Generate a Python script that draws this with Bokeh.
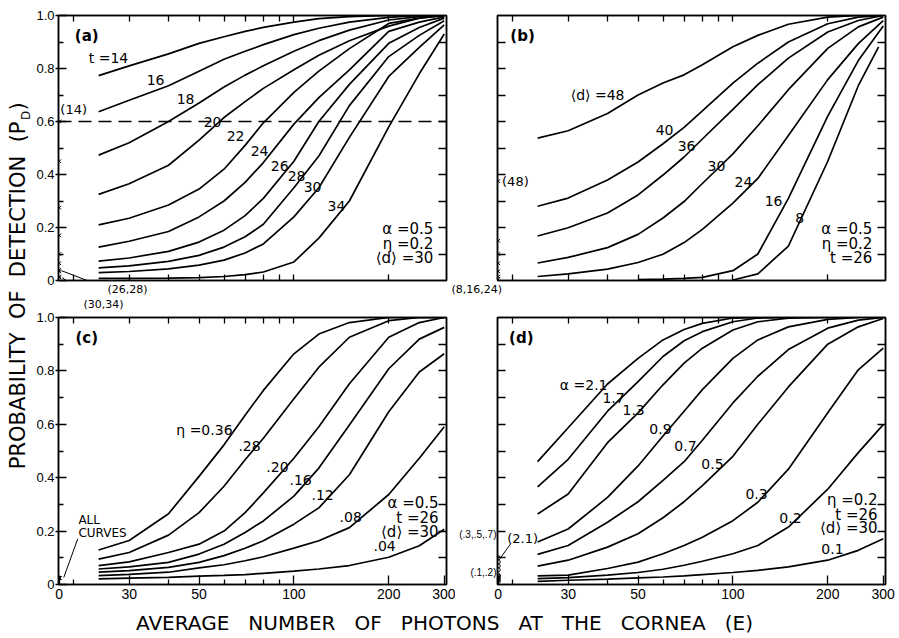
import math
import json
from bokeh.plotting import figure
from bokeh.models import (Range1d, FixedTicker, LinearAxis, LogAxis, Title,
                          CustomJSTickFormatter, Label, Arrow, Span)
from bokeh.layouts import row, column
from bokeh.embed import file_html
from bokeh.resources import INLINE

FONT = "DejaVu Sans"
TFONT = "Liberation Sans"
GAP = " \u00a0\u00a0"     # wide word gap that SVG does not collapse

# ---------------- axis definition ----------------
E0 = 18.0                      # where E = 0 sits on the broken log axis
X_LO, X_HI = 17.9, 305.0
X_MAJOR = [E0, 30, 50, 100, 200, 300]
X_MINOR = [20, 40, 60, 70, 80, 90]
X_ALL = [20, 30, 40, 50, 60, 70, 80, 90, 100, 200]
Y_MAJOR = [0, 0.2, 0.4, 0.6, 0.8, 1.0]
Y_MINOR = [0.1, 0.3, 0.5, 0.7, 0.9]
Y_ALL = [0.1, 0.2, 0.3, 0.4, 0.5, 0.6, 0.7, 0.8, 0.9]

X_TITLE_WORDS = ["AVERAGE", "NUMBER", "OF", "PHOTONS", "AT", "THE", "CORNEA", "(E)"]
Y_TITLE_WORDS = ["PROBABILITY", "OF", "DETECTION", "(P"]

E = [24, 30, 40, 50, 60, 70, 80, 100, 120, 150, 200, 250, 300]

# ---------------- panel (a): threshold t ----------------
a_t = [14, 16, 18, 20, 22, 24, 26, 28, 30, 34]
a_P = [
    [0.773, 0.81, 0.855, 0.895, 0.92, 0.94, 0.955, 0.975, 0.988, 0.996, 1.0, 1.0, 1.0],
    [0.637, 0.68, 0.735, 0.79, 0.835, 0.865, 0.89, 0.928, 0.952, 0.975, 0.993, 1.0, 1.0],
    [0.473, 0.52, 0.60, 0.67, 0.73, 0.775, 0.81, 0.865, 0.905, 0.945, 0.983, 0.996, 1.0],
    [0.325, 0.365, 0.435, 0.53, 0.615, 0.675, 0.725, 0.795, 0.85, 0.905, 0.96, 0.99, 1.0],
    [0.21, 0.235, 0.285, 0.345, 0.42, 0.51, 0.595, 0.71, 0.79, 0.875, 0.97, 0.99, 1.0],
    [0.126, 0.148, 0.185, 0.24, 0.30, 0.37, 0.445, 0.59, 0.69, 0.795, 0.94, 0.975, 0.995],
    [0.073, 0.085, 0.11, 0.145, 0.19, 0.245, 0.31, 0.45, 0.60, 0.74, 0.895, 0.955, 0.99],
    [0.048, 0.055, 0.072, 0.095, 0.126, 0.165, 0.212, 0.35, 0.47, 0.66, 0.845, 0.925, 0.98],
    [0.03, 0.034, 0.044, 0.058, 0.077, 0.104, 0.138, 0.24, 0.35, 0.54, 0.77, 0.88, 0.965],
    [0.008, 0.008, 0.009, 0.011, 0.015, 0.022, 0.032, 0.07, 0.16, 0.30, 0.58, 0.78, 0.93],
]
a_dark = [0.60, 0.45, 0.275, 0.17, 0.10, 0.065, 0.04, 0.035, 0.015, 0.012]
a_lab = ["t =14", "16", "18", "20", "22", "24", "26", "28", "30", "34"]
a_lab_E = [25.8, 36.4, 45.3, 55.2, 65.3, 77.8, 90.1, 102, 114.6, 136.5]
a_lab_P = [0.840, 0.758, 0.684, 0.599, 0.546, 0.487, 0.431, 0.394, 0.353, 0.283]
a_par = ["\u03b1 =0.5", "\u03b7 =0.2", "\u27e8d\u27e9 =30"]
a_below = ["(26,28)", "(30,34)"]
a_below_offset = [49, 25]

# ---------------- panel (b): dark noise <d> ----------------
b_d = [48, 40, 36, 30, 24, 16, 8]
b_E = [E, E, E, E, E,
       [50, 60, 70, 80, 100, 120, 150, 200, 250, 300],
       [100, 120, 150, 200, 250, 290]]
b_P = [
    [0.537, 0.565, 0.63, 0.70, 0.745, 0.776, 0.814, 0.882, 0.925, 0.967, 0.994, 1.0, 1.0],
    [0.28, 0.311, 0.379, 0.447, 0.516, 0.578, 0.64, 0.745, 0.82, 0.90, 0.969, 0.994, 1.0],
    [0.168, 0.199, 0.255, 0.323, 0.398, 0.466, 0.534, 0.646, 0.739, 0.839, 0.938, 0.981, 1.0],
    [0.066, 0.087, 0.124, 0.174, 0.236, 0.298, 0.366, 0.478, 0.584, 0.72, 0.876, 0.957, 0.994],
    [0.015, 0.025, 0.043, 0.068, 0.099, 0.143, 0.193, 0.292, 0.385, 0.547, 0.758, 0.894, 0.981],
    [0.003, 0.005, 0.008, 0.012, 0.037, 0.10, 0.31, 0.62, 0.83, 0.96],
    [0.002, 0.025, 0.13, 0.45, 0.735, 0.882],
]
b_dark = [0.375, 0.15, 0.10, 0.065, 0.035, 0.015, 0.005]
b_lab = ["\u27e8d\u27e9 =48", "40", "36", "30", "24", "16", "8"]
b_lab_E = [37.2, 60.7, 71.3, 88.7, 108, 134.6, 162.8]
b_lab_P = [0.699, 0.569, 0.509, 0.431, 0.372, 0.301, 0.234]
b_par = ["\u03b1 =0.5", "\u03b7 =0.2", "t =26"]
b_below = "(8,16,24)"
b_below_offset = -46

# ---------------- panel (c): quantum efficiency eta ----------------
c_eta = [0.36, 0.28, 0.20, 0.16, 0.12, 0.08, 0.04]
c_P = [
    [0.129, 0.165, 0.265, 0.405, 0.523, 0.634, 0.727, 0.864, 0.938, 0.981, 1.0, 1.0, 1.0],
    [0.095, 0.12, 0.185, 0.269, 0.368, 0.467, 0.548, 0.696, 0.814, 0.926, 0.988, 1.0, 1.0],
    [0.071, 0.085, 0.12, 0.151, 0.20, 0.269, 0.343, 0.473, 0.591, 0.752, 0.926, 0.981, 1.0],
    [0.058, 0.066, 0.083, 0.114, 0.151, 0.195, 0.238, 0.331, 0.436, 0.597, 0.808, 0.919, 0.963],
    [0.046, 0.052, 0.064, 0.083, 0.108, 0.136, 0.164, 0.226, 0.287, 0.411, 0.647, 0.796, 0.864],
    [0.033, 0.038, 0.046, 0.062, 0.074, 0.089, 0.104, 0.136, 0.164, 0.213, 0.337, 0.473, 0.591],
    [0.021, 0.024, 0.027, 0.031, 0.034, 0.037, 0.042, 0.05, 0.058, 0.071, 0.102, 0.145, 0.207],
]
c_dark = [0.024] * 7
c_lab = ["\u03b7 =0.36", ".28", ".20", ".16", ".12", ".08", ".04"]
c_lab_E = [52.0, 72.3, 88.7, 105, 123.3, 151.4, 194]
c_lab_P = [0.58, 0.517, 0.439, 0.39, 0.335, 0.253, 0.145]
c_par = ["\u03b1 =0.5", "t =26", "\u27e8d\u27e9 =30"]

# ---------------- panel (d): alpha ----------------
d_alpha = [2.1, 1.7, 1.3, 0.9, 0.7, 0.5, 0.3, 0.2, 0.1]
d_E = [E[:9], E[:10], E[:11], E[:12], E, E, E, E, E]
d_P = [
    [0.46, 0.587, 0.751, 0.847, 0.916, 0.955, 0.978, 0.998, 1.0],
    [0.366, 0.469, 0.649, 0.76, 0.854, 0.913, 0.947, 0.984, 0.998, 1.0],
    [0.264, 0.339, 0.531, 0.643, 0.748, 0.829, 0.885, 0.953, 0.984, 0.998, 1.0],
    [0.159, 0.208, 0.326, 0.444, 0.556, 0.649, 0.73, 0.847, 0.916, 0.965, 0.993, 1.0],
    [0.113, 0.146, 0.233, 0.31, 0.39, 0.46, 0.54, 0.68, 0.78, 0.88, 0.96, 0.99, 1.0],
    [0.069, 0.091, 0.14, 0.19, 0.25, 0.31, 0.37, 0.48, 0.60, 0.74, 0.90, 0.965, 0.996],
    [0.032, 0.035, 0.06, 0.084, 0.115, 0.146, 0.177, 0.239, 0.308, 0.432, 0.643, 0.804, 0.885],
    [0.022, 0.026, 0.035, 0.045, 0.057, 0.072, 0.087, 0.115, 0.146, 0.215, 0.357, 0.494, 0.599],
    [0.012, 0.016, 0.02, 0.025, 0.028, 0.032, 0.037, 0.045, 0.053, 0.066, 0.091, 0.128, 0.171],
]
d_dark = [0.10, 0.085, 0.07, 0.055, 0.035, 0.03, 0.025, 0.018, 0.012]
d_lab = ["\u03b1 =2.1", "1.7", "1.3", "0.9", "0.7", "0.5", "0.3", "0.2", "0.1"]
d_lab_E = [33.6, 41.8, 48.4, 58.9, 70.7, 86.1, 118.9, 152.3, 207]
d_lab_P = [0.747, 0.699, 0.654, 0.584, 0.517, 0.45, 0.338, 0.249, 0.134]
d_par = ["\u03b7 =0.2", "t =26", "\u27e8d\u27e9 =30"]
d_side = ["(.3,.5,.7)", "(.1,.2)"]
d_side_P = [0.187, 0.045]

PAR_E = 277
PAR_P = [0.193, 0.138, 0.086]
PAR_E_LOW = 288
PAR_P_LOW_C = [0.305, 0.249, 0.197]
PAR_P_LOW_D = [0.316, 0.262, 0.212]


def style_ticks(ax, major, minor, maj_in, min_in):
    ax.ticker = FixedTicker(ticks=major, minor_ticks=minor)
    ax.major_tick_in = maj_in
    ax.major_tick_out = 0
    ax.minor_tick_in = min_in
    ax.minor_tick_out = 0
    ax.axis_line_width = 1.5
    ax.major_tick_line_width = 1.3
    ax.minor_tick_line_width = 1.3
    ax.major_label_standoff = 0
    ax.major_label_text_color = "black"


def panel(w, h, bl, br, bt, bb, xlabels, ylabels):
    p = figure(width=w, height=h, x_axis_type="log",
               x_range=Range1d(X_LO, X_HI), y_range=Range1d(0, 1),
               output_backend="svg", toolbar_location=None,
               min_border_left=bl, min_border_right=br,
               min_border_top=bt, min_border_bottom=bb)
    p.grid.visible = False
    p.outline_line_color = "black"
    p.outline_line_width = 1.5
    p.add_layout(LogAxis(), "above")
    p.add_layout(LinearAxis(), "right")
    style_ticks(p.above[0], [], X_ALL, 0, 6)
    style_ticks(p.right[0], [], Y_ALL, 0, 8)
    if xlabels:
        ax = p.below[0]
        style_ticks(ax, X_MAJOR, X_MINOR, 9, 5)
        ax.formatter = CustomJSTickFormatter(code="return tick < 25 ? '0' : tick.toFixed(0);")
        ax.major_label_text_font_size = "14px"
        ax.major_label_text_font = TFONT
        ax.major_label_standoff = 4
    else:
        style_ticks(p.below[0], [], X_ALL, 0, 6)
    if ylabels:
        ax = p.left[0]
        style_ticks(ax, Y_MAJOR, Y_MINOR, 8, 5)
        ax.major_tick_out = 3
        ax.formatter = CustomJSTickFormatter(code="return tick == 0 ? '0' : tick.toFixed(1);")
        ax.major_label_text_font_size = "13px"
        ax.major_label_text_font = TFONT
        ax.major_label_standoff = 1
    else:
        style_ticks(p.left[0], [], Y_ALL, 0, 8)
    return p


def lab(p, x, y, text, size="14px", align="center", style="normal"):
    p.add_layout(Label(x=x, y=y, text=text, text_font=FONT, text_font_size=size,
                       text_align=align, text_baseline="middle", text_font_style=style,
                       text_color="black"))


def below_title(p, text, offset):
    p.add_layout(Title(text=text, align="left", offset=offset, standoff=0,
                       text_font=FONT, text_font_size="11px", text_font_style="normal",
                       text_color="black"), "below")


def ptr(p, x0, y0, x1, y1):
    p.add_layout(Arrow(end=None, x_start=x0, y_start=y0, x_end=x1, y_end=y1,
                       line_color="black", line_width=1))


def curves(p, xs_list, ys_list):
    for xs, ys in zip(xs_list, ys_list):
        p.line(xs, ys, line_color="black", line_width=1.7)


# ---------------- build panels ----------------
pa = panel(416, 310, 25, 3, 15, 26, False, True)
pb = panel(450, 310, 48, 14, 15, 26, False, False)
pc = panel(422, 298, 25, 9, 7, 24, True, True)
pd = panel(444, 298, 42, 14, 7, 24, True, False)

# (a)
curves(pa, [E] * len(a_P), a_P)
pa.add_layout(Span(location=0.6, dimension="width", line_dash="13 7",
                   line_color="black", line_width=1.5))
pa.scatter([E0] * len(a_dark), a_dark, marker="x", size=5, line_color="black", line_width=1)
for t, x, y in zip(a_lab, a_lab_E, a_lab_P):
    lab(pa, x, y, t)
for t, y in zip(a_par, PAR_P):
    lab(pa, PAR_E, y, t, size="15px", align="right")
lab(pa, 22.0, 0.922, "(a)", size="15px", style="bold")
lab(pa, 20.0, 0.647, "(14)", size="13px")
for t, off in zip(a_below, a_below_offset):
    below_title(pa, t, off)
ptr(pa, 24.3, -0.019, 18.3, 0.037)
ptr(pa, 21.6, -0.052, 18.4, 0.011)

# (b)
curves(pb, b_E, b_P)
pb.scatter([E0] * len(b_dark), b_dark, marker="x", size=5, line_color="black", line_width=1)
for t, x, y in zip(b_lab, b_lab_E, b_lab_P):
    lab(pb, x, y, t)
for t, y in zip(b_par, PAR_P):
    lab(pb, PAR_E, y, t, size="15px", align="right")
lab(pb, 21.5, 0.922, "(b)", size="15px", style="bold")
lab(pb, 20.4, 0.375, "(48)", size="13px")
below_title(pb, b_below, b_below_offset)

# (c)
curves(pc, [E] * len(c_P), c_P)
pc.scatter([E0] * len(c_dark), c_dark, marker="x", size=5, line_color="black", line_width=1)
for t, x, y in zip(c_lab, c_lab_E, c_lab_P):
    lab(pc, x, y, t)
for t, y in zip(c_par, PAR_P_LOW_C):
    lab(pc, PAR_E_LOW, y, t, size="15px", align="right")
lab(pc, 22.0, 0.922, "(c)", size="15px", style="bold")
lab(pc, 20.7, 0.242, "ALL", size="12px", align="left")
lab(pc, 20.7, 0.193, "CURVES", size="12px", align="left")
ptr(pc, 20.6, 0.171, 18.6, 0.026)

# (d)
curves(pd, d_E, d_P)
pd.scatter([E0] * len(d_dark), d_dark, marker="circle", size=4, line_color="black",
           fill_color=None, line_width=1)
for t, x, y in zip(d_lab, d_lab_E, d_lab_P):
    lab(pd, x, y, t)
for t, y in zip(d_par, PAR_P_LOW_D):
    lab(pd, PAR_E_LOW, y, t, size="15px", align="right")
lab(pd, 21.3, 0.922, "(d)", size="15px", style="bold")
lab(pd, 21.5, 0.171, "(2.1)", size="13px")
ptr(pd, 19.7, 0.152, 18.3, 0.10)
side_ax = pd.left[0]
side_ax.ticker = FixedTicker(ticks=d_side_P, minor_ticks=Y_ALL)
side_ax.major_tick_in = 0
side_ax.major_tick_out = 0
side_ax.major_label_standoff = 1
side_ax.major_label_text_font = TFONT
side_ax.major_label_text_font_size = "10px"
side_map = {f"{v:.3f}": t for v, t in zip(d_side_P, d_side)}
side_ax.formatter = CustomJSTickFormatter(
    code="const m = %s; return m[tick.toFixed(3)] || '';" % json.dumps(side_map))

# ---------------- global axis titles ----------------
ylab = figure(width=33, height=638, x_range=Range1d(0, 1), y_range=Range1d(0, 1),
              output_backend="svg", toolbar_location=None, min_border=0,
              x_axis_location=None, y_axis_location=None)
ylab.grid.visible = False
ylab.outline_line_color = None
ylab.add_layout(Label(x=17 / 33, y=(638 - 121) / 638, text=(" \u00a0").join(Y_TITLE_WORDS),
                      angle=math.pi / 2, text_align="right", text_baseline="middle",
                      text_font=FONT, text_font_size="21px", text_color="black"))
ylab.add_layout(Label(x=25 / 33, y=(638 - 115) / 638, text="D",
                      angle=math.pi / 2, text_align="center", text_baseline="middle",
                      text_font=FONT, text_font_size="12px", text_color="black"))
ylab.add_layout(Label(x=17 / 33, y=(638 - 110) / 638, text=")",
                      angle=math.pi / 2, text_align="left", text_baseline="middle",
                      text_font=FONT, text_font_size="21px", text_color="black"))

xlab = figure(width=866, height=30, x_range=Range1d(0, 1), y_range=Range1d(0, 1),
              output_backend="svg", toolbar_location=None, min_border=0,
              x_axis_location=None, y_axis_location=None)
xlab.grid.visible = False
xlab.outline_line_color = None
xlab.add_layout(Label(x=(444 - 33) / 866, y=0.52,
                      text=GAP.join(X_TITLE_WORDS),
                      text_align="center", text_baseline="middle",
                      text_font=FONT, text_font_size="20px", text_color="black"))

layout = row(ylab, column(row(pa, pb), row(pc, pd), xlab))

open("out.html", "w").write(file_html(layout, INLINE))
